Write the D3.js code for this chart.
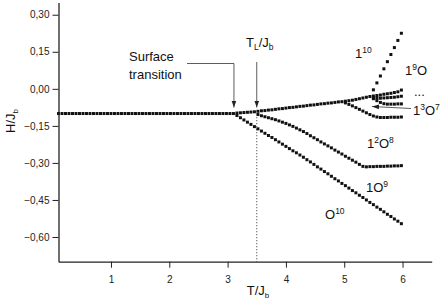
<!DOCTYPE html>
<html>
<head>
<meta charset="utf-8">
<script src="https://cdn.jsdelivr.net/npm/d3@7"></script>
<style>
  html, body { margin: 0; padding: 0; background: #fff; }
  svg { display: block; font-family: "Liberation Sans", Arial, sans-serif; }
</style>
</head>
<body>
<svg id="chart" width="445" height="306"></svg>
<script>
const temps = [
  0.10,0.16,0.22,0.28,0.34,0.40,0.46,0.52,0.58,0.64,
  0.70,0.76,0.82,0.88,0.94,1.00,1.06,1.12,1.18,1.24,
  1.30,1.36,1.42,1.48,1.54,1.60,1.66,1.72,1.78,1.84,
  1.90,1.96,2.02,2.08,2.14,2.20,2.26,2.32,2.38,2.44,
  2.50,2.56,2.62,2.68,2.74,2.80,2.86,2.92,2.98,3.04,
  3.10,3.16,3.22,3.28,3.34,3.40,3.46,3.52,3.58,3.64,
  3.70,3.76,3.82,3.88,3.94,4.00,4.06,4.12,4.18,4.24,
  4.30,4.36,4.42,4.48,4.54,4.60,4.66,4.72,4.78,4.84,
  4.90,4.96,5.02,5.08,5.14,5.20,5.26,5.32,5.38,5.44,
  5.50,5.56,5.62,5.68,5.74,5.80,5.86,5.92,5.98
];

// common low temperature branch (T = 0.10 .. 3.10)
const hBase = [
  -0.100,-0.100,-0.100,-0.100,-0.100,-0.100,-0.100,-0.100,-0.100,-0.100,
  -0.100,-0.100,-0.100,-0.100,-0.100,-0.100,-0.100,-0.100,-0.100,-0.100,
  -0.100,-0.100,-0.100,-0.100,-0.100,-0.100,-0.100,-0.100,-0.100,-0.100,
  -0.100,-0.100,-0.100,-0.100,-0.100,-0.100,-0.100,-0.100,-0.100,-0.100,
  -0.100,-0.100,-0.100,-0.100,-0.100,-0.100,-0.100,-0.100,-0.100,-0.100,
  -0.100
];
// upper branch up to 1^9O (T = 3.16 .. 5.98)
const hMain = [
  -0.098,-0.097,-0.096,-0.095,-0.094,-0.093,-0.091,-0.089,-0.088,-0.086,
  -0.085,-0.083,-0.081,-0.080,-0.078,-0.076,-0.075,-0.073,-0.071,-0.070,
  -0.068,-0.066,-0.065,-0.063,-0.061,-0.060,-0.058,-0.057,-0.055,-0.053,
  -0.052,-0.050,-0.048,-0.046,-0.043,-0.040,-0.037,-0.034,-0.031,
  -0.029,-0.027,-0.025,-0.022,-0.020,-0.018,-0.015,-0.012,-0.005
];
// O^10 (T = 3.16 .. 5.98)
const hO10 = [
  -0.108,-0.117,-0.126,-0.135,-0.144,-0.153,-0.162,-0.171,-0.180,-0.189,
  -0.197,-0.206,-0.215,-0.224,-0.233,-0.242,-0.251,-0.259,-0.268,-0.277,
  -0.287,-0.296,-0.306,-0.316,-0.325,-0.335,-0.344,-0.354,-0.364,-0.373,
  -0.383,-0.392,-0.402,-0.412,-0.421,-0.431,-0.440,-0.450,-0.460,-0.469,
  -0.479,-0.488,-0.498,-0.508,-0.517,-0.527,-0.536,-0.546
];
// 1^2O^8 (T = 3.52 .. 5.98)
const h12O8 = [
  -0.104,-0.109,-0.113,-0.117,-0.121,-0.125,-0.130,-0.135,-0.140,
  -0.146,-0.152,-0.159,-0.166,-0.173,-0.181,-0.190,-0.198,-0.206,-0.215,
  -0.223,-0.231,-0.239,-0.248,-0.256,-0.264,-0.273,-0.281,-0.289,-0.297,
  -0.306,-0.314,-0.316,-0.315,-0.315,-0.314,-0.314,-0.314,-0.313,-0.313,
  -0.312,-0.312,-0.311
];
// 1^3O^7 (T = 5.02 .. 5.98)
const h13O7 = [
  -0.057,-0.063,-0.069,-0.076,-0.083,-0.090,-0.097,-0.104,-0.110,
  -0.114,-0.116,-0.116,-0.116,-0.115,-0.115,-0.115,-0.114
];
// 1^10 (T = 5.50 .. 5.98)
const h110 = [-0.004, 0.024, 0.052, 0.081, 0.110, 0.139, 0.167, 0.196, 0.225];
// the "..." states (T = 5.50 .. 5.98)
const hMid = [-0.036,-0.038,-0.038,-0.037,-0.036,-0.035,-0.034,-0.032,-0.030];
const hLow = [-0.040,-0.048,-0.055,-0.060,-0.062,-0.062,-0.062,-0.061,-0.061];

const seriesStart = [0.10, 3.16, 3.16, 3.52, 5.02, 5.50, 5.50, 5.50];
const seriesValues = [hBase, hMain, hO10, h12O8, h13O7, h110, hMid, hLow];

const yMajor = [0.30, 0.15, 0.00, -0.15, -0.30, -0.45, -0.60];
const yMinor = [0.225, 0.075, -0.075, -0.225, -0.375, -0.525, -0.675];
const xMajor = [1, 2, 3, 4, 5, 6];
const xMinor = [0.5, 1.5, 2.5, 3.5, 4.5, 5.5, 6.5];
const tSurface = 3.10;
const tL = 3.50;

const svg = d3.select('#chart');
const x = d3.scaleLinear().domain([0.1, 6.5]).range([58.5, 431.7]);
const y = d3.scaleLinear().domain([-0.70, 0.35]).range([261.7, 2.4]);

// --- points ---
const points = [];
seriesValues.forEach((vals, i) => {
    const off = temps.indexOf(seriesStart[i]);
    vals.forEach((h, j) => points.push({ t: temps[off + j], h: h }));
});

// dotted line at T_L
svg.append('line')
    .attr('x1', x(tL)).attr('x2', x(tL))
    .attr('y1', y(-0.115)).attr('y2', y(-0.70))
    .attr('stroke', '#333').attr('stroke-width', 1)
    .attr('stroke-dasharray', '1,2');

const ms = 3;
svg.append('g').selectAll('rect')
    .data(points)
    .join('rect')
    .attr('x', d => x(d.t) - ms / 2)
    .attr('y', d => y(d.h) - ms / 2)
    .attr('width', ms).attr('height', ms)
    .attr('fill', '#111');

// --- axes ---
const fmt = v => (Math.abs(v) < 1e-9 ? '0,00' : d3.format('.2f')(v).replace('.', ','));

const gx = svg.append('g').attr('transform', `translate(0,${y(-0.70)})`);
gx.call(d3.axisBottom(x).tickValues(xMinor).tickSize(3).tickSizeOuter(0).tickFormat(''));
gx.call(d3.axisBottom(x).tickValues(xMajor).tickSize(6).tickSizeOuter(0).tickFormat(d3.format('d')));

const gy = svg.append('g').attr('transform', `translate(${x(0.1)},0)`);
gy.call(d3.axisLeft(y).tickValues(yMinor).tickSize(3).tickSizeOuter(0).tickFormat(''));
gy.call(d3.axisLeft(y).tickValues(yMajor).tickSize(6).tickSizeOuter(0).tickFormat(fmt));

svg.selectAll('.domain').attr('stroke', '#222').attr('stroke-width', 1.3);
svg.selectAll('.tick line').attr('stroke', '#222').attr('stroke-width', 1);
svg.selectAll('.tick text')
    .attr('font-family', '"Liberation Sans", Arial, sans-serif')
    .attr('font-size', 10).attr('fill', '#222');
gx.selectAll('.tick text').attr('dy', '1.25em');
gy.selectAll('.tick text').attr('x', -9);

// axis titles
const xt = svg.append('text')
    .attr('x', 258).attr('y', 295)
    .attr('text-anchor', 'middle')
    .attr('font-size', 13).attr('fill', '#111');
xt.append('tspan').text('T/J');
xt.append('tspan').attr('dy', 3).attr('font-size', 8).text('b');

const yt = svg.append('text')
    .attr('transform', 'translate(15,121) rotate(-90)')
    .attr('text-anchor', 'middle')
    .attr('font-size', 13).attr('fill', '#111');
yt.append('tspan').text('H/J');
yt.append('tspan').attr('dy', 3).attr('font-size', 8).text('b');

// --- annotations ---
svg.append('defs').append('marker')
    .attr('id', 'arrow')
    .attr('viewBox', '0 0 10 10')
    .attr('refX', 10).attr('refY', 5)
    .attr('markerWidth', 7).attr('markerHeight', 7)
    .attr('markerUnits', 'userSpaceOnUse')
    .attr('orient', 'auto')
    .append('path')
    .attr('d', 'M0,1.5 L10,5 L0,8.5 Z')
    .attr('fill', '#222');

const ann = svg.append('g')
    .attr('fill', 'none').attr('stroke', '#333').attr('stroke-width', 0.8);
ann.append('path')
    .attr('d', `M187,63.5 H${x(tSurface) + 0.5} V${y(-0.10) - 6}`)
    .attr('marker-end', 'url(#arrow)');
ann.append('path')
    .attr('d', `M${x(tL)},62 V${y(-0.10) - 6}`)
    .attr('marker-end', 'url(#arrow)');
ann.append('path')
    .attr('d', 'M411,108.5 L372,106.5')
    .attr('marker-end', 'url(#arrow)');

const labels = svg.append('g').attr('fill', '#111').attr('font-size', 13);
labels.append('text').attr('x', 129).attr('y', 61).text('Surface');
labels.append('text').attr('x', 129).attr('y', 79).text('transition');

function supLabel(px, py, parts) {
    const t = labels.append('text').attr('x', px).attr('y', py);
    parts.forEach(p => {
        if (p.sup) t.append('tspan').attr('dy', -5).attr('font-size', 8.5).text(p.s);
        else if (p.sub) t.append('tspan').attr('dy', 3).attr('font-size', 8.5).text(p.s);
        else t.append('tspan').attr('dy', p.back || 0).text(p.s);
    });
}
supLabel(246, 47, [{ s: 'T' }, { s: 'L', sub: true }, { s: '/J', back: -3 }, { s: 'b', sub: true }]);
supLabel(355, 58, [{ s: '1' }, { s: '10', sup: true }]);
supLabel(405, 75, [{ s: '1' }, { s: '9', sup: true }, { s: 'O', back: 5 }]);
supLabel(414, 96, [{ s: '...' }]);
supLabel(413, 115, [{ s: '1' }, { s: '3', sup: true }, { s: 'O', back: 5 }, { s: '7', sup: true }]);
supLabel(367, 148, [{ s: '1' }, { s: '2', sup: true }, { s: 'O', back: 5 }, { s: '8', sup: true }]);
supLabel(366, 192, [{ s: '1O' }, { s: '9', sup: true }]);
supLabel(325, 219, [{ s: 'O' }, { s: '10', sup: true }]);
</script>
</body>
</html>
